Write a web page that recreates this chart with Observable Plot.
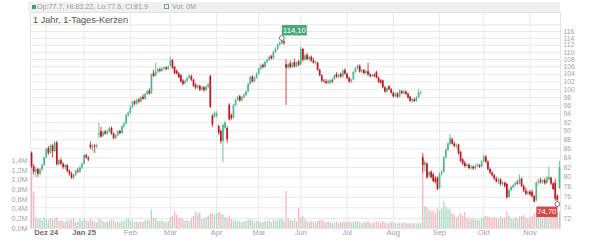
<!DOCTYPE html>
<html><head><meta charset="utf-8">
<script src="https://cdn.jsdelivr.net/npm/d3@7"></script>
<script src="https://cdn.jsdelivr.net/npm/@observablehq/plot@0.6"></script>
<style>
body{margin:0;background:#fff;font-family:"Liberation Sans",Arial,sans-serif;}
#wrap{position:relative;width:600px;height:240px;overflow:hidden;}
#wrap svg{position:absolute;left:0;top:0;}
#hdr{position:absolute;left:28px;top:2px;width:532px;height:10px;background:#f0f0f0;font-size:7.2px;color:#9a9a9a;line-height:10px;white-space:nowrap;z-index:5;}
#hdr .sq{display:inline-block;width:4px;height:4px;margin:0 1px 0 4px;vertical-align:0px;}
#hdr .g{background:#3f9f70;}
#hdr .o{border:1px solid #6aa88a;width:3px;height:3px;margin-left:16px;}
#title{position:absolute;left:33px;top:15px;font-size:9.2px;color:#555;z-index:5;}
</style></head><body>
<div id="wrap">
<div id="hdr"><span class="sq g"></span>Op:77.7, Hi:83.22, Lo:77.6, Cl:81.9<span class="sq o"></span> Vol: 0M</div>
<div id="title">1 Jahr, 1-Tages-Kerzen</div>
</div>
<script>
// ---- data (daily candles, oldest first) ----
const open = [
85.0,82.2,81.0,81.6,80.6,81.5,82.4,84.0,86.0,85.0,
86.6,85.4,87.3,82.6,83.4,82.7,82.0,82.4,81.2,80.6,
79.8,80.4,81.2,81.0,81.9,82.7,84.5,84.0,86.8,86.2,
86.6,86.4,89.0,89.9,88.8,89.8,89.3,89.8,90.6,89.3,
88.3,88.9,89.9,89.4,91.0,91.6,93.6,94.2,95.6,96.9,
96.4,97.4,96.9,98.1,97.6,98.8,99.6,99.0,104.2,103.5,
104.6,105.2,104.8,105.4,105.7,105.3,106.2,107.7,105.9,104.8,
104.1,103.6,102.2,101.5,102.2,102.9,103.4,102.4,101.2,100.4,
100.9,99.9,100.5,99.8,100.6,103.4,93.5,93.2,93.4,91.0,
89.9,87.6,90.6,90.6,96.1,93.6,93.0,96.0,97.3,98.2,
97.2,98.0,98.6,99.4,101.4,103.3,102.0,103.0,104.0,105.4,
106.4,105.8,107.2,107.8,108.8,108.2,110.0,110.8,112.0,112.4,
113.0,106.6,105.6,106.8,105.8,107.2,106.0,107.3,106.5,110.8,
107.8,109.2,108.0,108.6,107.6,107.0,107.0,105.1,103.6,102.2,
102.0,101.5,101.6,102.3,102.6,103.8,103.2,104.0,103.3,105.0,
104.0,102.9,102.0,102.5,104.5,105.5,106.2,104.6,105.0,104.2,
104.7,103.8,103.4,103.7,104.5,103.0,102.3,102.3,100.5,99.4,
100.8,100.0,99.1,98.2,98.9,98.1,99.5,99.0,99.4,98.9,
98.1,97.1,97.5,97.0,98.0,99.0,84.0,82.4,82.7,80.3,
81.0,80.5,79.6,79.8,77.8,80.6,81.0,84.0,85.7,87.0,
88.0,87.1,86.6,86.8,85.2,83.6,82.9,82.2,82.5,81.8,
82.1,81.7,82.2,82.4,82.1,83.2,84.2,83.1,81.6,80.8,
80.3,79.6,79.0,79.4,78.6,78.8,78.5,76.0,77.3,77.9,
78.3,78.8,78.6,79.6,78.1,77.2,76.6,77.0,77.0,76.1,
75.3,78.8,79.2,78.9,79.3,78.7,79.4,79.8,78.6,78.8,
76.2,77.7];
const high = [
85.3,82.6,82.0,81.8,81.8,82.6,84.2,86.1,86.5,86.9,
87.0,87.6,87.6,83.8,83.9,83.0,82.7,82.6,81.5,81.0,
80.7,81.5,81.8,82.2,83.0,84.8,84.8,84.3,87.5,86.9,
87.0,87.1,91.8,90.9,89.9,90.1,90.2,90.9,90.9,89.6,
89.2,90.1,90.2,91.3,92.0,93.9,94.6,95.9,97.2,97.3,
97.6,97.8,98.3,98.7,99.1,99.8,100.2,104.1,105.0,107.0,
105.6,105.7,105.8,106.0,106.0,106.3,108.6,108.0,106.1,105.2,
104.5,103.9,102.6,102.5,103.2,104.0,103.7,102.7,101.6,101.3,
101.1,100.8,100.9,101.0,101.6,103.8,93.8,94.5,94.6,91.3,
90.2,91.6,92.3,91.0,96.5,94.0,96.3,97.6,98.4,98.6,
98.3,99.0,99.7,101.7,103.5,103.6,103.3,104.4,105.7,106.6,
106.8,107.5,108.1,109.0,109.2,110.4,111.2,112.4,113.0,114.1,
113.3,107.9,107.0,107.6,107.2,108.0,107.4,107.7,111.5,111.1,
109.6,109.6,108.9,109.0,108.4,107.6,107.3,105.4,103.9,102.6,
102.6,102.5,102.6,102.8,104.0,104.4,104.0,104.3,105.2,105.5,
104.3,103.3,102.8,104.8,105.8,106.5,106.5,105.4,105.3,105.0,
107.0,104.2,104.0,104.2,104.8,103.3,102.6,102.5,100.8,100.6,
101.0,100.3,99.4,99.2,99.2,99.9,99.8,99.9,99.7,99.1,
98.3,97.8,97.7,98.3,100.0,99.6,85.0,83.4,83.0,81.2,
81.3,80.8,80.1,80.0,80.9,81.4,84.3,86.0,87.3,89.2,
88.4,87.5,87.1,87.0,85.5,83.9,83.3,82.8,82.7,82.4,
82.3,82.6,82.8,82.6,83.5,84.6,84.5,83.4,81.9,81.2,
80.6,80.0,79.8,79.7,79.1,79.0,78.8,77.6,78.2,78.6,
79.0,79.3,80.5,79.8,78.4,77.8,77.4,77.3,77.4,76.4,
79.0,79.6,79.8,79.6,79.7,80.2,82.1,80.0,78.9,79.6,
76.5,83.22];
const low = [
81.8,80.4,79.9,80.0,80.3,81.2,82.2,83.8,84.6,84.8,
84.0,85.2,82.3,82.2,82.4,81.6,81.5,80.9,80.2,79.5,
79.4,80.1,80.8,80.8,81.6,82.5,83.8,83.2,85.8,85.4,
85.0,86.0,88.2,88.4,88.6,89.0,89.0,89.5,89.0,88.0,
88.0,88.7,89.1,89.2,90.6,91.4,93.2,93.9,95.2,96.0,
96.1,96.5,96.7,97.3,97.4,98.5,98.6,98.8,103.1,103.3,
104.2,104.4,104.5,105.0,104.9,105.0,106.0,105.3,103.9,103.8,
102.8,101.7,101.0,101.2,101.9,102.6,102.1,100.5,100.0,100.1,
99.5,99.6,99.3,99.5,100.2,95.3,90.8,92.9,93.0,89.0,
87.0,83.0,90.2,87.2,92.3,92.4,92.8,95.8,97.0,96.8,
96.9,97.7,98.3,99.2,101.1,101.7,101.8,102.7,103.8,105.0,
105.4,105.6,106.8,107.5,107.8,108.0,109.6,110.5,111.7,112.2,
112.0,96.1,105.2,105.5,105.5,105.7,105.7,106.0,106.3,107.3,
107.5,107.6,107.3,107.2,106.7,106.5,104.8,103.4,101.8,101.7,
101.3,101.2,101.3,101.6,102.4,102.9,102.8,103.0,103.0,103.8,
102.6,101.6,101.6,102.3,104.2,105.1,104.3,104.2,103.8,103.9,
103.5,103.0,103.0,103.1,102.8,101.6,101.4,100.2,99.1,99.2,
99.8,98.9,97.9,97.9,97.8,97.9,98.7,98.6,98.5,97.6,
96.8,96.6,96.8,96.8,97.7,98.5,80.8,81.0,79.6,79.8,
79.6,78.8,78.6,77.3,77.5,80.2,80.8,83.8,85.4,86.7,
86.8,86.2,86.0,84.6,83.0,82.4,81.9,81.8,81.5,81.4,
81.4,81.5,81.9,81.8,81.9,83.0,82.8,81.3,80.5,80.0,
79.3,78.8,78.5,78.2,78.2,77.8,75.6,75.8,77.0,77.6,
78.0,78.4,78.4,77.9,76.9,76.3,76.3,76.2,75.8,74.9,
75.1,78.3,78.6,78.5,78.4,78.5,79.2,78.3,77.3,75.2,
74.7,77.6];
const close = [
82.2,81.0,81.6,80.6,81.5,82.4,84.0,85.8,85.0,86.6,
85.4,87.2,82.6,83.4,82.7,82.0,82.4,81.2,80.6,79.8,
80.4,81.2,81.0,81.9,82.7,84.5,84.0,83.6,86.2,86.5,
86.4,86.7,89.4,88.6,89.6,89.3,89.8,90.6,89.3,88.3,
88.9,89.8,89.4,91.0,91.6,93.6,94.2,95.6,96.9,96.4,
97.3,96.9,98.0,97.6,98.8,99.4,98.9,103.8,103.4,104.6,
105.2,104.8,105.4,105.7,105.3,105.9,107.6,105.6,104.2,104.1,
103.1,102.0,101.4,102.2,102.9,103.5,102.4,100.8,100.4,100.9,
99.9,100.5,99.8,100.6,101.2,95.6,91.4,94.1,94.0,89.5,
87.6,91.3,91.8,88.0,92.6,92.9,96.0,97.3,98.0,97.2,
98.0,98.6,99.4,101.4,103.2,102.0,103.0,104.0,105.4,106.2,
105.8,107.2,107.8,108.6,108.2,110.0,110.8,112.0,112.6,113.3,
112.5,105.6,106.6,105.8,106.9,106.0,107.0,106.4,110.8,107.8,
109.0,108.0,108.6,107.6,107.0,107.3,105.1,103.6,102.2,102.0,
101.6,102.2,102.3,102.0,103.6,103.2,103.8,103.3,104.8,104.0,
102.9,102.0,102.5,104.5,105.5,106.2,104.6,105.0,104.2,104.7,
103.8,103.4,103.7,103.4,103.0,101.9,101.6,100.5,99.4,100.3,
100.0,99.1,98.2,98.9,98.1,99.6,99.0,99.4,98.8,97.9,
97.1,97.5,97.0,98.0,99.2,99.3,82.4,83.0,79.9,80.9,
79.9,79.1,79.0,77.6,80.6,81.0,84.0,85.7,87.1,88.3,
87.0,86.5,86.8,84.9,83.3,82.7,82.2,82.5,81.8,82.1,
81.7,82.2,82.5,82.1,83.2,84.3,83.1,81.6,80.8,80.3,
79.6,79.0,79.4,78.5,78.8,78.1,75.9,77.3,77.9,78.3,
78.8,78.6,79.6,78.1,77.2,76.6,77.0,76.5,76.1,75.1,
78.8,79.2,78.9,79.3,78.7,79.8,80.0,78.6,77.5,75.6,
75.4,81.9];
// volume in millions of shares
const volume = [
1.30,0.75,0.22,0.18,0.20,0.16,0.22,0.19,0.17,0.21,
0.18,0.20,0.22,0.15,0.16,0.14,0.13,0.17,0.15,0.18,
0.20,0.12,0.14,0.19,0.15,0.20,0.16,0.14,0.18,0.15,
0.13,0.12,0.20,0.17,0.14,0.12,0.13,0.15,0.17,0.16,
0.12,0.14,0.11,0.15,0.14,0.18,0.20,0.16,0.15,0.12,
0.13,0.12,0.14,0.13,0.15,0.17,0.16,0.38,0.22,0.20,
0.15,0.14,0.16,0.13,0.12,0.15,0.22,0.25,0.35,0.28,
0.20,0.22,0.18,0.15,0.16,0.14,0.20,0.25,0.34,0.30,
0.32,0.18,0.20,0.22,0.25,0.30,0.32,0.28,0.30,0.33,
0.30,0.28,0.22,0.20,0.25,0.18,0.17,0.15,0.14,0.13,
0.12,0.14,0.15,0.18,0.17,0.16,0.13,0.14,0.15,0.12,
0.13,0.15,0.14,0.16,0.12,0.17,0.15,0.16,0.18,0.20,
0.15,0.76,0.20,0.16,0.15,0.18,0.14,0.41,0.22,0.25,
0.18,0.15,0.12,0.14,0.13,0.12,0.15,0.16,0.17,0.13,
0.12,0.14,0.12,0.10,0.12,0.14,0.10,0.12,0.14,0.13,
0.12,0.14,0.11,0.13,0.15,0.14,0.12,0.10,0.13,0.12,
0.15,0.11,0.10,0.12,0.13,0.12,0.11,0.14,0.12,0.10,
0.11,0.13,0.12,0.10,0.09,0.11,0.10,0.12,0.10,0.09,
0.11,0.10,0.10,0.09,0.11,0.10,1.50,0.45,0.42,0.38,
0.35,0.36,0.30,0.40,0.35,0.40,0.54,0.45,0.40,0.38,
0.30,0.28,0.22,0.26,0.30,0.25,0.33,0.20,0.22,0.18,
0.20,0.17,0.18,0.16,0.20,0.22,0.25,0.24,0.22,0.20,
0.23,0.21,0.18,0.24,0.20,0.22,0.34,0.25,0.20,0.18,
0.22,0.19,0.24,0.25,0.28,0.21,0.20,0.22,0.25,0.30,
0.33,0.24,0.22,0.20,0.25,0.28,0.28,0.26,0.30,0.32,
0.35,0.33];

// axis ticks (trading-day index of each month start) and labels
const monthTicks  = [7, 25, 47, 66, 88, 108, 128, 150, 172, 194, 215, 237];
const monthLabels = ["Dez 24","Jan 25","Feb","Mar","Apr","Mai","Jun","Jul","Aug","Sep","Okt","Nov"];
const yearMonths  = [0, 1]; // labels drawn bold
const priceTicks  = [72,74,76,78,80,82,84,86,88,90,92,94,96,98,100,102,104,106,108,110,112,114,116];
const priceGrid   = [72,74,76,78,80,82,84,86,88,90,92,94,96,98,100,102,104,106,108,110,112,114,116,118];
const volTicks      = [0, 0.2, 0.4, 0.6, 0.8, 1.0, 1.2, 1.4];
const volTickLabels = ["0,0M","0,2M","0,4M","0,6M","0,8M","1,0M","1,2M","1,4M"];

// ---- layout / style ----
const N = close.length;
const candles = d3.range(N).map(i => ({i, o: open[i], h: high[i], l: low[i], c: close[i], v: volume[i], up: close[i] >= open[i]}));
const upColor = "#52b686", downColor = "#bf1520", volUp = "#a8d9c1", volDown = "#f5b4be";
const axisColor = "#a3a3a3", gridColor = "#e9e9e9";
const base = {width: 600, height: 240, marginLeft: 30, marginRight: 40, marginTop: 12, marginBottom: 12,
  style: {background: "transparent", fontFamily: "'Liberation Sans', Arial, sans-serif"}};
const xScale = {type: "linear", domain: [-0.5, N - 0.5], axis: null};
const priceScale = {type: "log", domain: [70.18, 121.76], axis: null};
const volScale = {type: "linear", domain: [0, 4.447], axis: null};

const wrap = document.getElementById("wrap");

// layer 1: grid + axis texts
const grid = Plot.plot({...base, x: xScale, y: priceScale, marks: [
  Plot.ruleY(priceGrid, {y: d => d, stroke: gridColor, strokeWidth: 1}),
  Plot.ruleX(monthTicks, {x: d => d, stroke: gridColor, strokeWidth: 1}),
  Plot.frame({stroke: "#e2e2e2"}),
  Plot.text(priceTicks, {x: N - 0.5, y: d => d, dx: 3, text: d => String(d), textAnchor: "start", fill: axisColor, fontSize: 6.8}),
  Plot.text(monthTicks.filter((d, k) => !yearMonths.includes(k)), {x: d => d, frameAnchor: "bottom", dy: 6,
    text: d => monthLabels[monthTicks.indexOf(d)], fill: axisColor, fontSize: 7.6}),
  Plot.text(monthTicks.filter((d, k) => yearMonths.includes(k)), {x: d => d, frameAnchor: "bottom", dy: 6,
    text: d => monthLabels[monthTicks.indexOf(d)], fill: "#6a6a6a", fontSize: 7.6, fontWeight: "bold"})
]});
wrap.appendChild(grid);

// layer 2: volume bars + left axis
const vol = Plot.plot({...base, x: xScale, y: volScale, color: {type: "identity"}, marks: [
  Plot.ruleX(candles, {x: "i", y1: 0, y2: "v", stroke: d => d.up ? volUp : volDown, strokeWidth: 1.3}),
  Plot.text(volTicks, {x: -0.5, y: d => d, dx: -3, text: (d, k) => volTickLabels[k], textAnchor: "end", fill: axisColor, fontSize: 7.2})
]});
wrap.appendChild(vol);

// layer 3: candles + high/low markers
const hiIdx = d3.maxIndex(high), loIdx = d3.minIndex(low);
const fmt = v => v.toFixed(2).replace(".", ",");
const hiMark = [{i: hiIdx, v: high[hiIdx], label: fmt(high[hiIdx])}];
const loMark = [{i: loIdx, v: low[loIdx], label: fmt(low[loIdx])}];
const boxAbove = {draw(ctx) { ctx.rect(0, -13, 25, 10.5); }};
const boxBelow = {draw(ctx) { ctx.rect(-21, 2.5, 21, 10.5); }};
const price = Plot.plot({...base, x: xScale, y: priceScale, color: {type: "identity"}, marks: [
  Plot.ruleX(candles, {x: "i", y1: "l", y2: "h", stroke: d => d.up ? upColor : downColor, strokeWidth: 0.8}),
  Plot.ruleX(candles, {x: "i", y1: "o", y2: "c", stroke: d => d.up ? upColor : downColor, strokeWidth: 1.7}),
  Plot.dot(hiMark, {x: "i", y: "v", symbol: boxAbove, fill: "#4aa97b", r: 3}),
  Plot.text(hiMark, {x: "i", y: "v", text: "label", dx: 12.5, dy: -7.8, fill: "white", fontSize: 7.6}),
  Plot.dot(hiMark, {x: "i", y: "v", r: 2.4, stroke: "#555", fill: "white", strokeWidth: 0.8}),
  Plot.dot(loMark, {x: "i", y: "v", symbol: boxBelow, fill: "#d24848", r: 3}),
  Plot.text(loMark, {x: "i", y: "v", text: "label", dx: -10.5, dy: 7.8, fill: "white", fontSize: 7.6}),
  Plot.dot(loMark, {x: "i", y: "v", r: 2.4, stroke: "#555", fill: "white", strokeWidth: 0.8})
]});
wrap.appendChild(price);
</script>
</body></html>
